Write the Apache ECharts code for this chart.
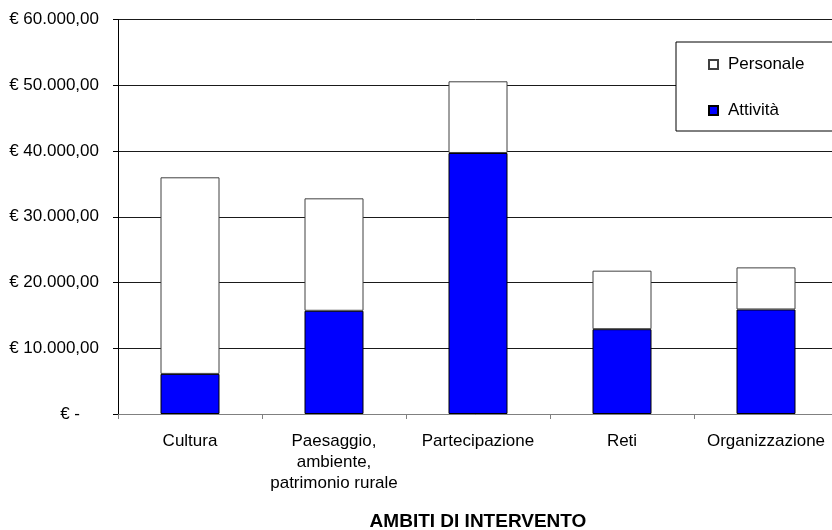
<!DOCTYPE html>
<html>
<head>
<meta charset="utf-8">
<script src="https://cdn.jsdelivr.net/npm/echarts@6/dist/echarts.min.js"></script>
<style>
html,body{margin:0;padding:0;background:#fff;}
#c{width:832px;height:530px;}
</style>
</head>
<body>
<div id="c"></div>
<script>
const categories = ['Cultura', 'Paesaggio,\nambiente,\npatrimonio rurale', 'Partecipazione', 'Reti', 'Organizzazione'];
const attivita = [6100, 15700, 39700, 12900, 15900];
const personale = [29900, 17100, 10900, 8900, 6400];
const yTicks = { min: 0, max: 60000, interval: 10000 };
const axisTitle = 'AMBITI DI INTERVENTO';

function fmtEuro(v) {
  if (v === 0) return '{z|€ -}';
  const s = Math.round(v).toString().replace(/\B(?=(\d{3})+(?!\d))/g, '.');
  return '€ ' + s + ',00';
}

const FONT = '"Liberation Sans", Arial, sans-serif';
const chart = echarts.init(document.getElementById('c'), null, { renderer: 'canvas' });
chart.setOption({
  animation: false,
  backgroundColor: '#fff',
  textStyle: { fontFamily: FONT },
  grid: { left: 118, right: -6, top: 19.5, bottom: 116, containLabel: false, outerBoundsMode: 'none' },
  legend: {
    data: ['Personale', 'Attività'],
    orient: 'vertical',
    left: 676,
    top: 42,
    padding: [14, 60, 12, 32],
    itemGap: 29,
    itemWidth: 9,
    itemHeight: 9,
    icon: 'rect',
    borderColor: '#000',
    borderWidth: 1,
    backgroundColor: '#fff',
    textStyle: { fontFamily: FONT, fontSize: 17, color: '#000', lineHeight: 17, padding: [0, 0, 0, 5] }
  },
  xAxis: {
    type: 'category',
    data: categories,
    name: axisTitle,
    nameLocation: 'middle',
    nameGap: 98,
    nameTextStyle: { fontFamily: FONT, fontSize: 19, fontWeight: 'bold', color: '#000' },
    axisLine: { lineStyle: { color: '#808080', width: 1 } },
    axisTick: { show: true, length: 5, lineStyle: { color: '#808080' } },
    axisLabel: { fontFamily: FONT, fontSize: 17, color: '#000', lineHeight: 21, margin: 17, interval: 0 },
    splitLine: { show: false }
  },
  yAxis: {
    type: 'value',
    min: yTicks.min,
    max: yTicks.max,
    interval: yTicks.interval,
    axisLine: { show: true, lineStyle: { color: '#000', width: 1 } },
    axisTick: { show: true, length: 5, lineStyle: { color: '#000' } },
    axisLabel: {
      fontFamily: FONT, fontSize: 17, color: '#000', margin: 19,
      formatter: fmtEuro,
      rich: { z: { fontFamily: FONT, fontSize: 17, color: '#000', padding: [0, 19, 0, 0] } }
    },
    splitLine: { show: true, lineStyle: { color: '#1a1a1a', width: 1 } }
  },
  series: [
    {
      name: 'Attività', type: 'bar', stack: 'tot', data: attivita,
      barWidth: 59,
      itemStyle: { color: '#0000FF', borderColor: '#000', borderWidth: 1 }
    },
    {
      name: 'Personale', type: 'bar', stack: 'tot', data: personale,
      barWidth: 59,
      itemStyle: { color: '#FFFFFF', borderColor: '#404040', borderWidth: 1 }
    }
  ]
});
</script>
</body>
</html>
